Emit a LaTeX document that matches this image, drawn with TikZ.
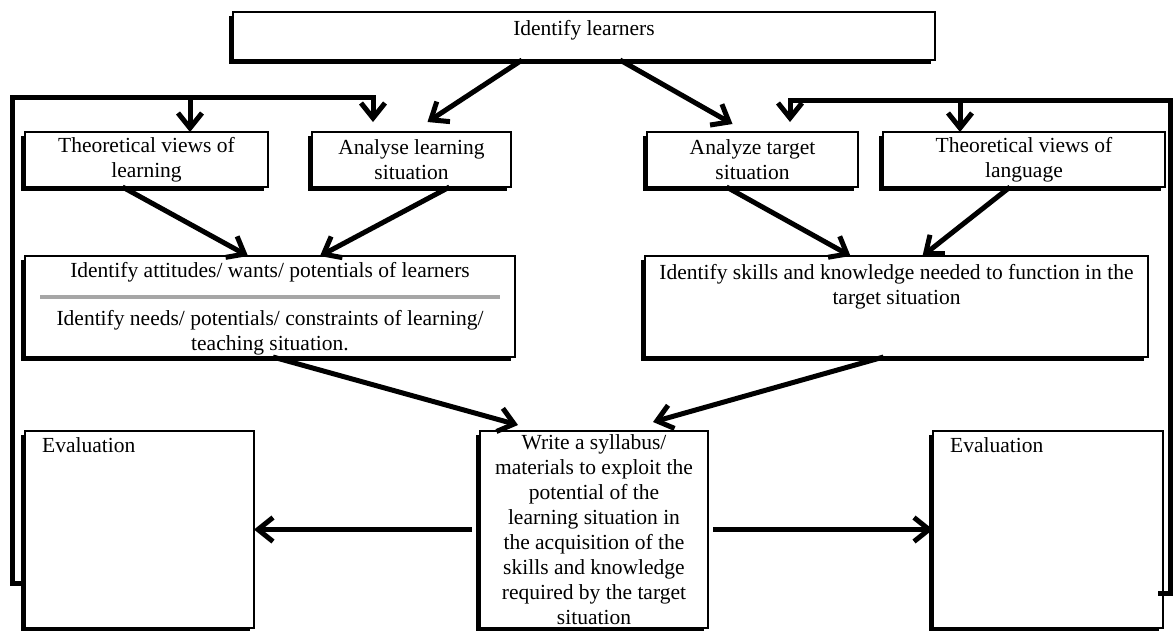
\documentclass[tikz,border=0pt]{standalone}
\usepackage{fontspec}
\setmainfont{Liberation Serif}
\usetikzlibrary{arrows.meta,positioning,shadows}
\tikzset{
  box/.style={draw, line width=2pt, fill=white, inner sep=0pt, outer sep=0pt, anchor=north west,
    general shadow={fill=black, shadow xshift=-4pt, shadow yshift=-4pt}},
  txt/.style={font=\fontsize{21.5}{25}\selectfont, align=center, inner sep=0pt},
  arr/.style={line width=5pt, -{Straight Barb[length=15pt,width=24pt]}},
  rule/.style={line width=4pt, black!35}
}

\begin{document}
\begin{tikzpicture}[x=1pt,y=-1pt]
\useasboundingbox (0,0) rectangle (1173,630);

\node[box, minimum width=702pt, minimum height=48pt] (learners) at (233,12) {};
\node[txt, below=8pt of learners.north] (learnersT) {Identify learners};

\node[box, txt, minimum width=243pt, minimum height=55pt] (theoL) at (25,132) {Theoretical views of\\learning};
\node[box, txt, minimum width=199pt, minimum height=55pt] (anaL) at (312,132) {Analyse learning\\situation};
\node[box, txt, minimum width=211pt, minimum height=55pt] (anaT) at (647,132) {Analyze target\\situation};
\node[box, txt, minimum width=282pt, minimum height=55pt] (theoG) at (883,132) {Theoretical views of\\language};

\node[box, minimum width=490pt, minimum height=101pt] (attit) at (25,256) {};
\node[txt, below=6pt of attit.north] (attitT) {Identify attitudes/ wants/ potentials of learners};
\draw[rule] ([xshift=15pt,yshift=-41pt]attit.north west) -- ([xshift=-15pt,yshift=-41pt]attit.north east);
\node[txt, below=54pt of attit.north] (needsT) {Identify needs/ potentials/ constraints of learning/\\teaching situation.};

\node[box, minimum width=503pt, minimum height=101pt] (skills) at (645,256) {};
\node[txt, below=8pt of skills.north] (skillsT) {Identify skills and knowledge needed to function in the\\target situation};

\node[box, minimum width=229pt, minimum height=197pt] (evalL) at (25,431) {};
\node[txt, below right=6pt and 17pt of evalL.north west] (evalLT) {Evaluation};
\node[box, minimum width=228pt, minimum height=197pt] (write) at (480,431) {};
\node[txt, below=3pt of write.north] (writeT) {Write a syllabus/\\materials to exploit the\\potential of the\\learning situation in\\the acquisition of the\\skills and knowledge\\required by the target\\situation};
\node[box, minimum width=230pt, minimum height=197pt] (evalR) at (933,431) {};
\node[txt, below right=6pt and 17pt of evalR.north west] (evalRT) {Evaluation};

\coordinate (fbL) at (12,97);
\coordinate (dropL) at (190,97);
\coordinate (fbR) at (1170,100);
\coordinate (dropR) at (960,100);

\draw[arr] ([yshift=45pt]evalL.south west) -| (fbL) -| ([xshift=61pt,yshift=10pt]anaL.north west);
\draw[arr] (dropL) -- (dropL |- theoL.north);
\draw[arr] ([xshift=-5pt,yshift=35pt]evalR.south east) -| (fbR) -| ([xshift=143pt,yshift=10pt]anaT.north west);
\draw[arr] (dropR) -- (dropR |- theoG.north);

\draw[arr] ([xshift=-62pt]learners.south) -- ([xshift=16pt,yshift=10pt]anaL.north);
\draw[arr] ([xshift=36pt]learners.south) -- ([xshift=-20pt,yshift=8pt]anaT.north);

\draw[arr] ([xshift=-24pt]theoL.south) -- ([xshift=-22pt]attit.north);
\draw[arr] ([xshift=38pt]anaL.south) -- ([xshift=50pt]attit.north);
\draw[arr] ([xshift=-26pt]anaT.south) -- ([xshift=-46pt]skills.north);
\draw[arr] ([xshift=-14pt]theoG.south) -- ([xshift=26pt]skills.north);

\draw[arr] ([xshift=3pt]attit.south) -- ([xshift=-76pt,yshift=6pt]write.north);
\draw[arr] ([xshift=-13pt]skills.south) -- ([xshift=59pt,yshift=9pt]write.north);

\draw[arr] ([xshift=-8pt]write.west) -- (evalL.east);
\draw[arr] ([xshift=5pt]write.east) -- (evalR.west);
\end{tikzpicture}
\end{document}
